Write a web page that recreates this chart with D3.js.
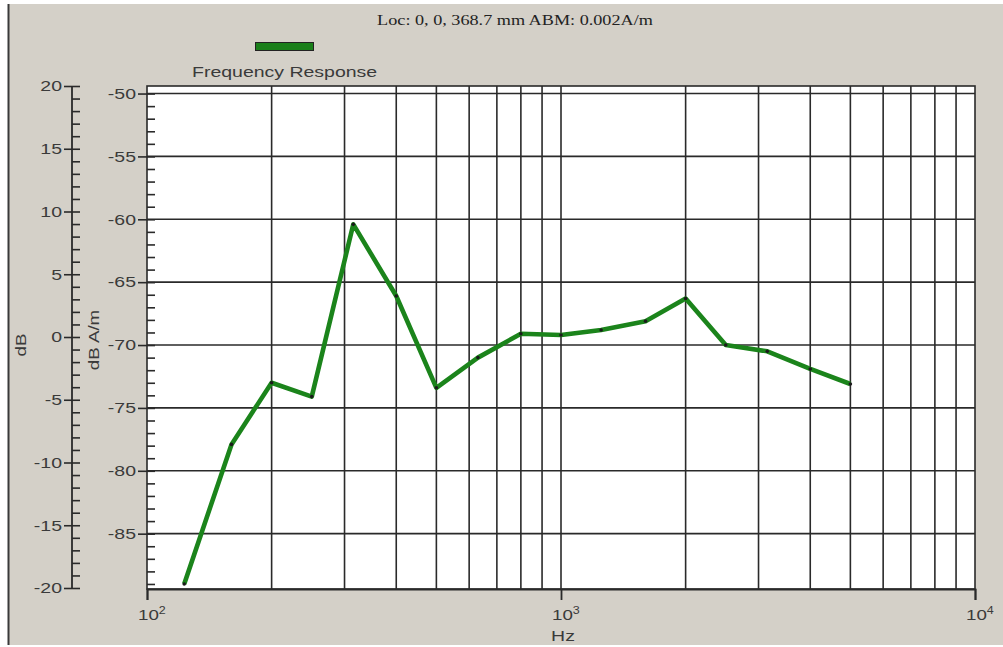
<!DOCTYPE html>
<html>
<head>
<meta charset="utf-8">
<script src="https://cdn.jsdelivr.net/npm/d3@7"></script>
<style>
  body { margin: 0; background: #fff; }
  svg { display: block; }
  .tick text { font-family: "Liberation Sans", Arial, sans-serif; font-size: 15px; fill: #3a3a3a; }
  .lbl { font-family: "Liberation Sans", Arial, sans-serif; font-size: 15px; fill: #3a3a3a; }
</style>
</head>
<body>
<script>
// chart values
var freqs  = [123, 160, 200, 250, 315, 400, 500, 630, 800, 1000, 1250, 1600, 2000, 2500, 3150, 4000, 5000];
var levels = [-89.0, -77.9, -73.0, -74.1, -60.4, -66.1, -73.4, -71.0, -69.1, -69.2, -68.8, -68.1, -66.3, -70.0, -70.5, -71.9, -73.1];
var dbTicks   = [-20, -15, -10, -5, 0, 5, 10, 15, 20];
var abmTicks  = [-85, -80, -75, -70, -65, -60, -55, -50];
var decades   = [100, 1000, 10000];
var titleText = "Loc: 0, 0, 368.7 mm ABM: 0.002A/m";
var seriesName = "Frequency Response";

var lineColor = "#1b841b";
var gridColor = "#2a2a2a";
var sx = 1.3; // the original texts are drawn wide

var W = 1003, H = 647;
// plot box (pixels)
var pLeft = 147, pRight = 975, pTop = 86, pBottom = 589;

var svg = d3.select("body").append("svg")
    .attr("width", W)
    .attr("height", H);

// grey panel + left edge
svg.append("rect").attr("x", 9).attr("y", 4).attr("width", W - 9).attr("height", 641).attr("fill", "#d4d0c8");
svg.append("line").attr("x1", 8.5).attr("x2", 8.5).attr("y1", 4).attr("y2", 645)
    .attr("stroke", "#3a3a3a").attr("stroke-width", 2);

var x = d3.scaleLog().domain([100, 10000]).range([pLeft, pRight]);
var y = d3.scaleLinear().domain([-89.4, -49.4]).range([pBottom, pTop]);
var yDb = d3.scaleLinear().domain([-20, 20]).range([588, pTop]);

var fmt = d => String(d); // plain hyphen minus

function widen(texts) {
  texts.each(function () {
    var t = d3.select(this);
    var tx = +t.attr("x") || 0;
    t.attr("x", 0).attr("transform", "translate(" + tx + ",0) scale(" + sx + ",1)");
  });
}

// plot area
svg.append("rect").attr("x", pLeft).attr("y", pTop)
    .attr("width", pRight - pLeft).attr("height", pBottom - pTop)
    .attr("fill", "#fff").attr("stroke", gridColor).attr("stroke-width", 1.6);

// grid
var g = svg.append("g");
var vgrid = [];
[100, 1000].forEach(function (d) { for (var k = 2; k <= 9; k++) vgrid.push(d * k); });
vgrid.push(1000);
g.selectAll(".vg").data(vgrid).enter().append("line")
    .attr("x1", d => x(d)).attr("x2", d => x(d))
    .attr("y1", pTop).attr("y2", pBottom)
    .attr("stroke", gridColor).attr("stroke-width", 1.6);
g.selectAll(".hg").data(abmTicks).enter().append("line")
    .attr("x1", pLeft).attr("x2", pRight)
    .attr("y1", d => y(d)).attr("y2", d => y(d))
    .attr("stroke", gridColor).attr("stroke-width", 1.6);

// dB A/m axis (at plot left)
var minorAbm = d3.range(-89, -49);
svg.append("g").attr("transform", "translate(" + pLeft + ",0)")
    .call(d3.axisRight(y).tickValues(minorAbm).tickSize(8).tickFormat(""))
    .call(a => a.select(".domain").remove())
    .selectAll("line").attr("stroke", gridColor).attr("stroke-width", 1.6);
var ya = svg.append("g").attr("transform", "translate(" + pLeft + ",0)")
    .call(d3.axisLeft(y).tickValues(abmTicks).tickSize(9).tickPadding(2).tickFormat(fmt));
ya.select(".domain").remove();
ya.selectAll("line").attr("stroke", gridColor).attr("stroke-width", 1.6);
widen(ya.selectAll("text"));

// dB axis
var axX = 72;
svg.append("g").attr("transform", "translate(" + axX + ",0)")
    .call(d3.axisRight(yDb).tickValues(d3.range(-20, 21)).tickSize(8).tickFormat(""))
    .call(a => a.select(".domain").remove())
    .selectAll("line").attr("stroke", gridColor).attr("stroke-width", 1.6);
var yd = svg.append("g").attr("transform", "translate(" + axX + ",0)")
    .call(d3.axisLeft(yDb).tickValues(dbTicks).tickSize(8).tickPadding(2).tickFormat(fmt));
yd.select(".domain").remove();
yd.selectAll("line").attr("stroke", gridColor).attr("stroke-width", 1.6);
widen(yd.selectAll("text"));
svg.append("line").attr("x1", axX).attr("x2", axX).attr("y1", pTop).attr("y2", 588)
    .attr("stroke", gridColor).attr("stroke-width", 1.8);

// x axis
var xa = svg.append("g").attr("transform", "translate(0," + pBottom + ")")
    .call(d3.axisBottom(x).tickValues(decades).tickSize(11).tickFormat(""));
xa.select(".domain").attr("stroke", gridColor).attr("stroke-width", 1.8);
xa.selectAll("line").attr("stroke", gridColor).attr("stroke-width", 1.8);
decades.forEach(function (d) {
  var t = svg.append("text").attr("class", "lbl").attr("font-size", 14)
      .attr("transform", "translate(" + (x(d) - 9) + ",620) scale(1.25,1)");
  t.append("tspan").text("10");
  t.append("tspan").attr("dy", -6).attr("font-size", 10).text(Math.round(Math.log10(d)));
});

// axis titles
svg.append("text").attr("class", "lbl").attr("text-anchor", "middle")
    .attr("transform", "translate(" + (x(1000) + 2) + ",641) scale(" + sx + ",1)").text("Hz");
svg.append("text").attr("class", "lbl").attr("text-anchor", "middle").attr("font-size", 16)
    .attr("transform", "translate(26,345) rotate(-90) scale(1.25,1)").text("dB");
svg.append("text").attr("class", "lbl").attr("text-anchor", "middle").attr("font-size", 16)
    .attr("transform", "translate(99,340) rotate(-90) scale(1.25,1)").text("dB A/m");

// title + legend
svg.append("text").attr("text-anchor", "middle")
    .attr("transform", "translate(515,25) scale(" + sx + ",1)")
    .attr("font-family", "'Liberation Serif', 'Times New Roman', serif").attr("font-size", 14)
    .attr("fill", "#222").text(titleText);
svg.append("rect").attr("x", 255.5).attr("y", 42.5).attr("width", 58).attr("height", 8)
    .attr("fill", "#1a7f1a").attr("stroke", "#222");
svg.append("text").attr("class", "lbl")
    .attr("transform", "translate(192,77) scale(" + sx + ",1)").text(seriesName);

// series
var pts = freqs.map((f, i) => [f, levels[i]]);
var line = d3.line().x(d => x(d[0])).y(d => y(d[1]));
svg.append("path").datum(pts)
    .attr("d", line)
    .attr("fill", "none")
    .attr("stroke", lineColor)
    .attr("stroke-width", 4.6)
    .attr("stroke-linejoin", "round");
svg.selectAll(".mk").data(pts).enter().append("circle")
    .attr("cx", d => x(d[0])).attr("cy", d => y(d[1]))
    .attr("r", 1.8).attr("fill", "#1a1a1a");
</script>
</body>
</html>
